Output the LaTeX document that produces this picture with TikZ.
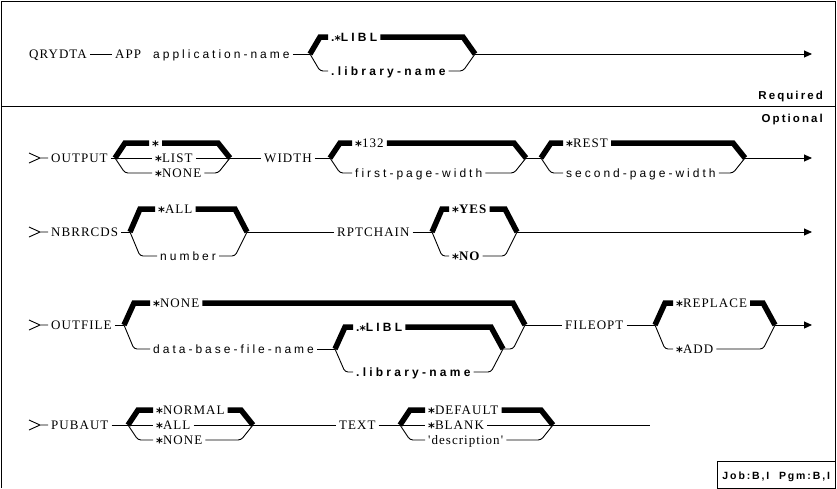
\documentclass[tikz,border=0pt]{standalone}
\usepackage{fontspec}
\setmainfont{Liberation Serif}
\newfontfamily\kwfont[LetterSpace=8]{Liberation Serif}
\newfontfamily\varfont[LetterSpace=25]{Liberation Sans}
\newfontfamily\dflfont[LetterSpace=27]{Liberation Sans}
\newfontfamily\lblfont[LetterSpace=18]{Liberation Sans}
\newfontfamily\starfont{DejaVu Sans}
\usetikzlibrary{arrows.meta}
\newcommand{\kstar}{\raisebox{-0.3em}[0.45em][0pt]{\starfont\bfseries *}}

\begin{document}
\begin{tikzpicture}
  [x=1pt,y=-1pt,
   every node/.style={anchor=west,inner xsep=3pt,inner ysep=0pt,text height=8pt,text depth=0pt},
   kw/.style={font=\kwfont\fontsize{13}{14}\selectfont},
   kwb/.style={font=\kwfont\bfseries\fontsize{13}{14}\selectfont},
   var/.style={font=\varfont\fontsize{12}{14}\selectfont},
   dfl/.style={font=\dflfont\bfseries\fontsize{12}{14}\selectfont},
   lbl/.style={anchor=east,font=\lblfont\bfseries\fontsize{11.5}{14}\selectfont},
   line/.style={line width=0.9pt},
   lower/.style={line width=0.9pt,rounded corners=3pt},
   bar/.style={line width=5.5pt},
   go/.style={line width=0.9pt,-{Triangle[length=8pt,width=7pt]}},
   frame/.style={line width=1pt}]
  \useasboundingbox (0,0) rectangle (837,488);
  \draw[frame] (1,488) -- (1,1) -- (835.5,1) -- (835.5,488);
  \draw[frame] (1,106) -- (835.5,106);

  % required
  \node[kw] (qrydta) at (26,54) {QRYDTA};
  \node[kw] (app) at (112,54) {APP};
  \node[var] (appname) at (150,54) {application-name};
  \coordinate (b1) at (310,54);
  \node[dfl] (libl1) at (328,37) {.\kstar LIBL};
  \node[dfl] (lib1) at (328,71) {.library-name};
  \coordinate (j1) at (475,54);
  \coordinate (e1) at (812,54);
  \node[lbl] (req) at (826,95) {Required};
  \node[lbl] (opt) at (826,118) {Optional};

  % OUTPUT / WIDTH
  \node[kw] (output) at (48,158) {OUTPUT};
  \coordinate (b2) at (115,158);
  \node[kw] (star2) at (149,143) {\kstar};
  \node[kw] (list) at (152,158) {\kstar LIST};
  \node[kw] (none2) at (152,173) {\kstar NONE};
  \coordinate (j2) at (230,158);
  \node[kw] (width) at (261,158) {WIDTH};
  \coordinate (b3) at (330,158);
  \node[kw] (w132) at (352,143) {\kstar 132};
  \node[var] (fpw) at (352,173) {first-page-width};
  \coordinate (j3) at (526,158);
  \coordinate (b4) at (541,158);
  \node[kw] (rest) at (563,143) {\kstar REST};
  \node[var] (spw) at (563,173) {second-page-width};
  \coordinate (j4) at (745,158);
  \coordinate (e2) at (812,158);

  % NBRRCDS / RPTCHAIN
  \node[kw] (nbrrcds) at (48,232) {NBRRCDS};
  \coordinate (b5) at (130,232);
  \node[kw] (all3) at (155,209) {\kstar ALL};
  \node[var] (number) at (157,256) {number};
  \coordinate (j5) at (247,232);
  \node[kw] (rptchain) at (334,232) {RPTCHAIN};
  \coordinate (b6) at (432,232);
  \node[kwb] (yes) at (449,209) {\kstar YES};
  \node[kwb] (no) at (449,256) {\kstar NO};
  \coordinate (j6) at (517,232);
  \coordinate (e3) at (812,232);

  % OUTFILE / FILEOPT
  \node[kw] (outfile) at (48,325) {OUTFILE};
  \coordinate (b7) at (124,325);
  \node[kw] (none4) at (150,303) {\kstar NONE};
  \node[var] (dbfn) at (150,349) {data-base-file-name};
  \coordinate (b8) at (335,349);
  \node[dfl] (libl4) at (353,327) {.\kstar LIBL};
  \node[dfl] (lib4) at (353,372) {.library-name};
  \coordinate (j8) at (503,349);
  \coordinate (j7) at (525,325);
  \node[kw] (fileopt) at (562,325) {FILEOPT};
  \coordinate (b9) at (655,325);
  \node[kw] (replace) at (673,303) {\kstar REPLACE};
  \node[kw] (add) at (673,349) {\kstar ADD};
  \coordinate (j9) at (775,325);
  \coordinate (e4) at (812,325);

  % PUBAUT / TEXT
  \node[kw] (pubaut) at (48,425) {PUBAUT};
  \coordinate (b10) at (128,425);
  \node[kw] (normal) at (153,410) {\kstar NORMAL};
  \node[kw] (all5) at (153,425) {\kstar ALL};
  \node[kw] (none5) at (153,440) {\kstar NONE};
  \coordinate (j10) at (253,425);
  \node[kw] (text) at (336,425) {TEXT};
  \coordinate (b11) at (400,425);
  \node[kw] (default) at (425,410) {\kstar DEFAULT};
  \node[kw] (blank) at (425,425) {\kstar BLANK};
  \node[kw] (desc) at (425,440) {'description'};
  \coordinate (j11) at (553,425);
  \coordinate (e5) at (650,425);

  \node[draw,line width=1pt,anchor=south east,text height=8pt,minimum height=27pt,inner xsep=5pt,
        font=\lblfont\bfseries\fontsize{10.5}{12}\selectfont] (job) at (835.5,489) {Job:B,I\ \ Pgm:B,I};

  \foreach \a/\b in {qrydta/app, appname/b1, output/b2, j2/width, width/b3, j3/b4,
                     nbrrcds/b5, j5/rptchain, rptchain/b6, outfile/b7, dbfn/b8, j7/fileopt, fileopt/b9,
                     pubaut/b10, j10/text, text/b11, j11/e5, b2/list, list/j2, b10/all5, all5/j10,
                     b11/blank, blank/j11}
  \draw[line] (\a) -- (\b);

  \foreach \a/\b in {j1/e1, j4/e2, j6/e3, j9/e4}
  \draw[go] (\a) -- (\b);

  \foreach \r in {output,nbrrcds,outfile,pubaut}
  \draw[line] (\r.west) ++(-19,-5) -- ++(11,5) -- ++(-11,5) ++(11,-5) -- (\r.west);

  \foreach \b/\n/\j/\d in {b1/libl1/j1/17, b2/star2/j2/15, b3/w132/j3/15, b4/rest/j4/15, b5/all3/j5/23,
                           b6/yes/j6/23, b7/none4/j7/22, b8/libl4/j8/22, b9/replace/j9/22,
                           b10/normal/j10/15, b11/default/j11/15}
  {
    \draw[bar] (\b) -- ++(10,-\d) -- (\n.west);
    \draw[bar] (\j) -- ++(-12,-\d) -- (\n.east);
  }

  \foreach \b/\n/\j/\d in {b1/lib1/j1/17, b2/none2/j2/15, b3/fpw/j3/15, b4/spw/j4/15, b5/number/j5/24,
                           b6/no/j6/24, b8/lib4/j8/23, b9/add/j9/24, b10/none5/j10/15, b11/desc/j11/15}
  {
    \draw[lower] (\b) -- ++(10,\d) -- (\n.west);
    \draw[lower] (\j) -- ++(-12,\d) -- (\n.east);
  }
  \draw[lower] (b7) -- ++(10,24) -- (dbfn.west);
  \draw[lower] (j7) -- ++(-12,24) -- (j8);
\end{tikzpicture}
\end{document}
